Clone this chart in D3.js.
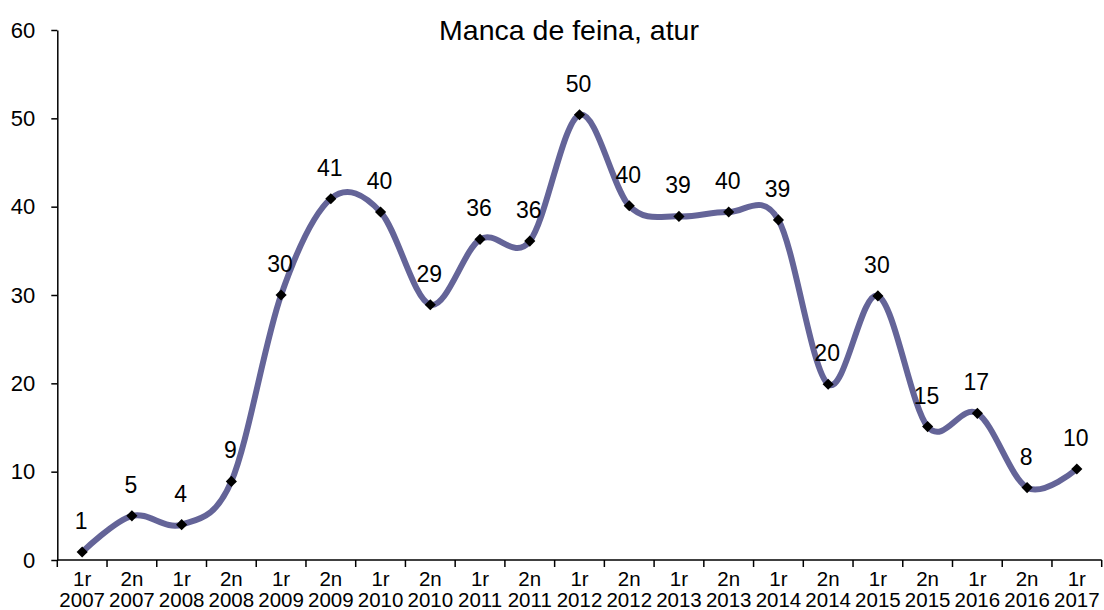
<!DOCTYPE html>
<html><head><meta charset="utf-8">
<script src="https://cdn.jsdelivr.net/npm/d3@7"></script>
<style>
html,body{margin:0;padding:0;background:#fff;}
svg{display:block;font-family:"Liberation Sans",Arial,sans-serif;}
</style></head>
<body>
<svg id="chart" width="1104" height="610"></svg>
<script>
const periods = ["1r","2n","1r","2n","1r","2n","1r","2n","1r","2n","1r","2n","1r","2n","1r","2n","1r","2n","1r","2n","1r"];
const years = ["2007","2007","2008","2008","2009","2009","2010","2010","2011","2011","2012","2012","2013","2013","2014","2014","2015","2015","2016","2016","2017"];
const values = [0.9,5.0,4.0,8.9,30.0,40.9,39.4,28.9,36.3,36.1,50.4,40.1,38.9,39.4,38.5,19.9,29.9,15.1,16.6,8.2,10.3];
const labels = ["1","5","4","9","30","41","40","29","36","36","50","40","39","40","39","20","30","15","17","8","10"];
const yTicks = [0,10,20,30,40,50,60];
const title = "Manca de feina, atur";

const svg = d3.select("#chart");
const cats = periods.map((p,i)=>i);
const x = d3.scaleBand().domain(cats).range([57.3,1101.7]).padding(0);
const y = d3.scaleLinear().domain([0,60]).range([560,30]);

// title
svg.append("text").attr("x",569).attr("y",40).attr("text-anchor","middle")
  .style("font-size","28.5px").attr("fill","#000").text(title);

// y axis
const yAxis = d3.axisLeft(y).tickValues(yTicks).tickSize(6).tickSizeOuter(0).tickPadding(16);
const gy = svg.append("g").attr("transform","translate(57.3,0)").call(yAxis);
gy.select(".domain").attr("stroke","#000").attr("stroke-width",1.5);
gy.selectAll(".tick line").attr("stroke","#000").attr("stroke-width",1.5);
gy.selectAll(".tick text").style("font-size","22px").attr("fill","#000").attr("font-family","Liberation Sans, Arial, sans-serif");

// x axis
const gx = svg.append("g").attr("transform","translate(0,560)");
gx.append("line").attr("x1",x.range()[0]).attr("x2",x.range()[1]).attr("stroke","#000").attr("stroke-width",1.5);
const edges = cats.map(c=>x(c)).concat([x.range()[1]]);
gx.selectAll("line.tk").data(edges).enter().append("line").attr("class","tk")
  .attr("x1",d=>d).attr("x2",d=>d).attr("y1",0).attr("y2",7).attr("stroke","#000").attr("stroke-width",1.5);
const xl = gx.selectAll("text.xl").data(cats).enter().append("text").attr("class","xl")
  .attr("text-anchor","middle").style("font-size","20.5px").attr("fill","#000");
xl.append("tspan").attr("x",d=>x(d)+x.bandwidth()/2).attr("y",26).text(d=>periods[d]);
xl.append("tspan").attr("x",d=>x(d)+x.bandwidth()/2).attr("y",47).text(d=>years[d]);

// line
const cx = i => x(i)+x.bandwidth()/2;
const line = d3.line().x((d,i)=>cx(i)).y(d=>y(d)).curve(d3.curveCardinal.tension(0));
svg.append("path").datum(values).attr("d",line).attr("fill","none")
  .attr("stroke","#646498").attr("stroke-width",6).attr("stroke-linejoin","round");

// markers
svg.selectAll("path.mk").data(values).enter().append("path").attr("class","mk")
  .attr("d",d3.symbol(d3.symbolSquare,62)())
  .attr("transform",(d,i)=>`translate(${cx(i)},${y(d)}) rotate(45)`).attr("fill","#000");

// data labels
svg.selectAll("text.dl").data(values).enter().append("text").attr("class","dl")
  .attr("x",(d,i)=>cx(i)-1).attr("y",d=>y(d)-23).attr("text-anchor","middle")
  .style("font-size","23px").attr("fill","#000").text((d,i)=>labels[i]);
</script>
</body></html>
